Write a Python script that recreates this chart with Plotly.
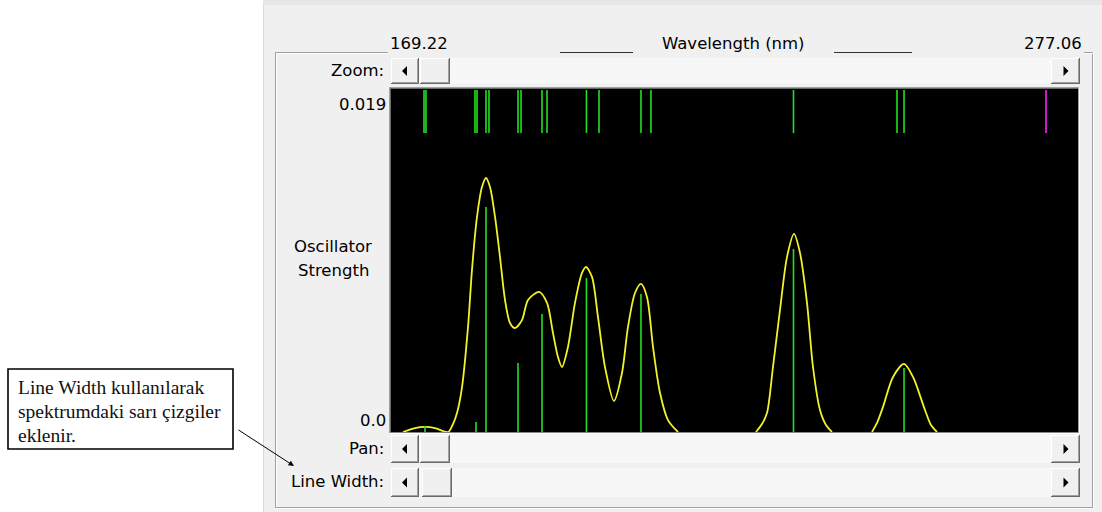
import plotly.graph_objects as go

W, H = 1102, 512

# ---------------- data ----------------
wl_min, wl_max = 169.22, 277.06          # wavelength range shown (nm)
f_max = 0.019                            # oscillator strength at top of plot

# stick spectrum (wavelength nm, oscillator strength)
stick_nm = [174.56, 182.56, 184.13, 189.16, 192.92, 199.90, 208.46, 232.40, 249.75]
stick_f = [0.00033, 0.00055, 0.01246, 0.00382, 0.00654, 0.00853, 0.00764, 0.01014, 0.00355]

# transition markers in the top band
tick_nm = [174.40, 174.71, 182.40, 182.72, 184.13, 184.60, 189.16, 189.63,
           192.92, 193.71, 199.90, 201.87, 208.46, 210.03, 232.40, 248.65, 249.75]
selected_nm = [272.04]

# broadened (yellow) spectrum, three bands
band1_nm = [171.10, 172.99, 174.56, 176.13, 178.17, 178.95, 179.58, 180.37, 181.31,
            181.93, 182.72, 183.50, 184.13, 184.76, 185.55, 186.33, 187.12, 187.90,
            188.68, 189.78, 190.73, 192.45, 193.71, 194.65, 195.43, 196.06, 197.00,
            198.10, 199.20, 199.83, 200.77, 201.71, 202.81, 204.22, 205.48, 206.42,
            207.52, 208.46, 209.40, 210.35, 211.45, 212.70, 214.27]
band1_f = [0.0, 0.00022, 0.00028, 0.00022, 0.0, 0.00044, 0.00105, 0.00249, 0.00582,
           0.00897, 0.01191, 0.01357, 0.01407, 0.01357, 0.01191, 0.00969, 0.00731, 0.00604,
           0.00576, 0.00620, 0.00731, 0.00776, 0.00715, 0.00548, 0.00415, 0.00360, 0.00471,
           0.00715, 0.00881, 0.00914, 0.00859, 0.00637, 0.00360, 0.00172, 0.00327, 0.00582,
           0.00770, 0.00820, 0.00748, 0.00471, 0.00216, 0.00066, 0.0]
band2_nm = [226.51, 227.46, 228.24, 229.18, 230.28, 231.38, 232.48, 233.42, 234.52,
            235.46, 236.56, 237.50, 238.44]
band2_f = [0.0, 0.00044, 0.00105, 0.00360, 0.00676, 0.00969, 0.01097, 0.00992, 0.00715,
           0.00360, 0.00122, 0.00039, 0.0]
band3_nm = [244.72, 245.51, 246.45, 248.02, 249.75, 251.16, 253.04, 253.98, 254.93]
band3_f = [0.0, 0.00050, 0.00139, 0.00305, 0.00377, 0.00305, 0.00122, 0.00039, 0.0]

# ---------------- helpers for pixel -> paper ----------------
def P(x):
    return x / W

def Q(y):
    return 1 - y / H

shapes = []
annotations = []

def rect(x0, y0, x1, y1, fill, line=None, lw=1):
    shapes.append(dict(type="rect", xref="paper", yref="paper", layer="below",
                       x0=P(x0), x1=P(x1), y0=Q(y1), y1=Q(y0), fillcolor=fill,
                       line=dict(width=lw if line else 0, color=line or "rgba(0,0,0,0)")))

def hline(x0, x1, y, color, lw=1):
    shapes.append(dict(type="line", xref="paper", yref="paper", layer="below",
                       x0=P(x0), x1=P(x1), y0=Q(y), y1=Q(y), line=dict(color=color, width=lw)))

def vline(x, y0, y1, color, lw=1):
    shapes.append(dict(type="line", xref="paper", yref="paper", layer="below",
                       x0=P(x), x1=P(x), y0=Q(y0), y1=Q(y1), line=dict(color=color, width=lw)))

def tri(cx, cy, direction):
    if direction == "left":
        pts = [(cx - 3, cy), (cx + 2, cy - 5), (cx + 2, cy + 5)]
    else:
        pts = [(cx + 3, cy), (cx - 2, cy - 5), (cx - 2, cy + 5)]
    path = "M " + " L ".join(f"{P(a):.5f},{Q(b):.5f}" for a, b in pts) + " Z"
    shapes.append(dict(type="path", xref="paper", yref="paper", layer="below",
                       path=path, fillcolor="black", line=dict(width=0)))

def button(x0, y0, x1, y1, arrow=None):
    rect(x0, y0, x1, y1, "#f0f0f0")
    hline(x0, x1, y0 + 0.5, "#ffffff")
    vline(x0 + 0.5, y0, y1, "#ffffff")
    hline(x0, x1, y1 - 0.5, "#696969")
    vline(x1 - 0.5, y0, y1, "#696969")
    hline(x0 + 1, x1 - 1, y1 - 1.5, "#a0a0a0")
    vline(x1 - 1.5, y0 + 1, y1 - 1, "#a0a0a0")
    if arrow:
        tri((x0 + x1) / 2, (y0 + y1) / 2, arrow)

def scrollbar(y0, y1, thumb):
    rect(391, y0, 1080, y1, "#f7f7f7")
    button(391, y0, 419, y1, "left")
    button(thumb[0], y0, thumb[1], y1)
    button(1051, y0, 1080, y1, "right")

def text(x, y, s, anchor="right", size=16.5, font="DejaVu Sans", color="#000000"):
    annotations.append(dict(xref="paper", yref="paper", x=P(x), y=Q(y), text=s,
                            showarrow=False, xanchor=anchor, yanchor="middle",
                            font=dict(family=font, size=size, color=color)))

# ---------------- UI chrome ----------------
rect(263, 0, W, H, "#f0f0f0")
rect(263, 0, W, 5, "#e6e6e6")
vline(263.5, 5, H, "#d9d9d9")

# group box (etched)
for off, col in ((0, "#a0a0a0"), (1, "#ffffff")):
    hline(275 + off, 388, 52.5 + off, col)
    hline(1084, 1092 + off, 52.5 + off, col)
    vline(275.5 + off, 52 + off, 507, col)
    hline(275, 1092 + off, 507.5 + off, col)
    vline(1092.5 + off, 52 + off, 508, col)

# underscores around the axis title
hline(560, 633, 52.5, "#333333")
hline(834, 912, 52.5, "#333333")

scrollbar(58, 84, (420, 450))
scrollbar(435, 463, (420, 450))
scrollbar(468, 497, (422, 452))

# plot area (black with sunken border)
rect(389, 87, 1080, 434, "#ffffff")
rect(389, 87, 1079, 433, "#a0a0a0")
rect(390, 88, 1078, 432.5, "#696969")
rect(391, 89, 1078, 432, "#000000")

# labels
text(388, 43, "169.22", anchor="left")
text(733, 43, "Wavelength (nm)", anchor="center")
text(1084, 43, "277.06")
text(386, 70, "Zoom:")
text(388, 104, "0.019")
text(333, 246, "Oscillator", anchor="center")
text(333, 270, "Strength", anchor="center")
text(388, 420, "0.0")
text(386, 448, "Pan:")
text(386, 481, "Line Width:")

# callout box
rect(8, 369, 233, 449, "#ffffff", line="#000000", lw=1.6)
for yy, s in ((387, "Line Width kullanılarak"), (411, "spektrumdaki sarı çizgiler"), (435, "eklenir.")):
    text(16, yy, s, anchor="left", size=19.5, font="Liberation Serif", color="#111111")
annotations.append(dict(xref="paper", yref="paper", x=P(294), y=Q(466), ax=-57, ay=-37,
                        text="", showarrow=True, arrowhead=2, arrowsize=1.1,
                        arrowwidth=1, arrowcolor="#000000", standoff=0))

# ---------------- traces ----------------
def segs(xs_list, ys_list):
    X, Y = [], []
    for xs, ys in zip(xs_list, ys_list):
        X += list(xs) + [None]
        Y += list(ys) + [None]
    return X, Y

def sticks(xs, ys):
    X, Y = [], []
    for x, y in zip(xs, ys):
        X += [x, x, None]
        Y += [0, y, None]
    return X, Y

fig = go.Figure()

ex, ey = segs([band1_nm, band2_nm, band3_nm], [band1_f, band2_f, band3_f])
fig.add_trace(go.Scatter(x=ex, y=ey, mode="lines", line=dict(color="#f2f22a", width=1.8, shape="spline", smoothing=0.8),
                         hoverinfo="skip", showlegend=False))

sx, sy = sticks(stick_nm, stick_f)
fig.add_trace(go.Scatter(x=sx, y=sy, mode="lines", line=dict(color="#22e022", width=1.6),
                         hoverinfo="skip", showlegend=False))

tx, ty = sticks(tick_nm, [1] * len(tick_nm))
fig.add_trace(go.Scatter(x=tx, y=ty, mode="lines", yaxis="y2", line=dict(color="#22e022", width=1.6),
                         hoverinfo="skip", showlegend=False))
mx, my = sticks(selected_nm, [1] * len(selected_nm))
fig.add_trace(go.Scatter(x=mx, y=my, mode="lines", yaxis="y2", line=dict(color="#ff22ff", width=1.6),
                         hoverinfo="skip", showlegend=False))

fig.update_layout(
    width=W, height=H, margin=dict(l=0, r=0, t=0, b=0),
    paper_bgcolor="#ffffff", plot_bgcolor="rgba(0,0,0,0)",
    xaxis=dict(range=[wl_min, wl_max], domain=[P(391), P(1078)], visible=False, fixedrange=True),
    yaxis=dict(range=[0, f_max], domain=[Q(432), Q(89)], visible=False, fixedrange=True),
    yaxis2=dict(range=[0, 1], domain=[Q(133), Q(90)], anchor="x", visible=False, fixedrange=True),
    shapes=shapes, annotations=annotations, showlegend=False,
)

fig.write_html("out.html", config={"displayModeBar": False},
               post_script="document.body.style.margin='0';document.body.style.overflow='hidden';")
